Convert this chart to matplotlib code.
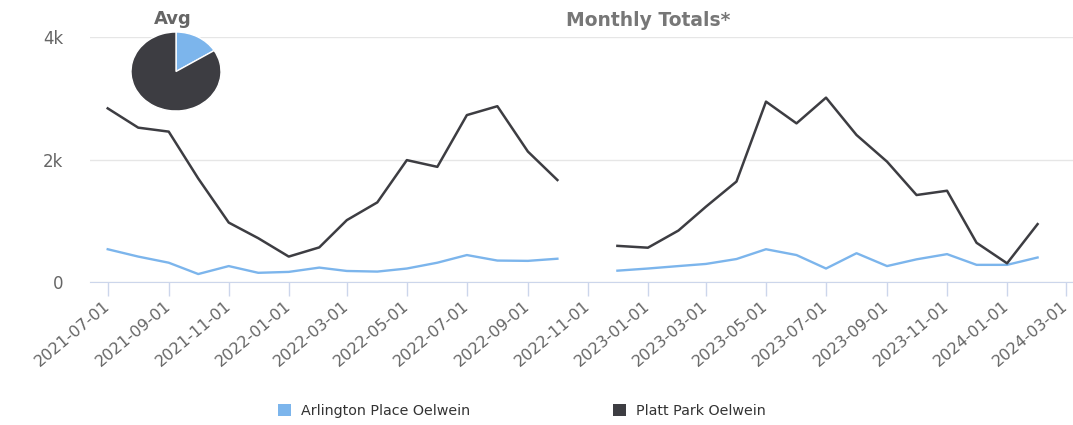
import numpy as np
import pandas as pd
import matplotlib
matplotlib.use("Agg")
import matplotlib.pyplot as plt
import matplotlib.dates as mdates
from matplotlib.patches import Patch

plt.rcParams['font.family'] = ['DejaVu Sans']

# 월별 데이터 (2022-11 은 결측)
months = pd.date_range("2021-07-01", "2024-02-01", freq="MS")
arlington = [535, 415, 315, 130, 260, 150, 165, 235, 180, 170, 220, 315, 440, 350, 345, 380,
             np.nan,
             185, 220, 260, 295, 375, 535, 440, 220, 470, 260, 370, 455, 280, 280, 400]
platt = [2835, 2520, 2455, 1690, 970, 715, 415, 565, 1010, 1300, 1990, 1880, 2725, 2870, 2130, 1665,
         np.nan,
         590, 560, 840, 1230, 1640, 2945, 2590, 3010, 2400, 1965, 1420, 1490, 640, 305, 945]
series_names = ["Arlington Place Oelwein", "Platt Park Oelwein"]
colors = ["#7cb5ec", "#3d3d42"]

W, H = 1073, 425
fig = plt.figure(figsize=(W / 100, H / 100), dpi=100)
ax = fig.add_axes([90 / W, 1 - 282 / H, (W - 90) / W, (282 - 37) / H])

ax.plot(months, arlington, color=colors[0], lw=1.7, solid_joinstyle='round')
ax.plot(months, platt, color=colors[1], lw=1.8, solid_joinstyle='round')

ax.set_ylim(0, 4000)
ax.set_yticks([0, 2000, 4000])
ax.set_yticklabels(["0", "2k", "4k"])
ax.set_xlim(pd.Timestamp("2021-07-01") - pd.Timedelta(days=18),
            pd.Timestamp("2024-03-01") + pd.Timedelta(days=7))

ax.xaxis.set_major_locator(mdates.MonthLocator(bymonth=[1, 3, 5, 7, 9, 11]))
ax.xaxis.set_major_formatter(mdates.DateFormatter("%Y-%m-%d"))
for lab in ax.get_xticklabels():
    lab.set_rotation(40)
    lab.set_ha('right')
    lab.set_va('center')
    lab.set_rotation_mode('anchor')

ax.grid(axis='y', color='#e6e6e6', lw=1)
ax.set_axisbelow(True)
for s in ['top', 'right', 'left']:
    ax.spines[s].set_visible(False)
ax.spines['bottom'].set_color('#ccd6eb')
ax.tick_params(axis='x', length=10, width=1, color='#ccd6eb', labelcolor='#666666',
               labelsize=11.5, pad=6)
ax.tick_params(axis='y', length=0, labelcolor='#666666', labelsize=12, pad=19)

fig.text(648 / W, 1 - 20 / H, "Monthly Totals*", ha='center', va='center',
         fontsize=13.5, fontweight='bold', color='#777777')

# 평균 파이 (원본 이미지가 가로로 늘어나 있어 타원으로 그림)
avg_vals = [np.nanmean(arlington), np.nanmean(platt)]
pax = fig.add_axes([131 / W, (H - 111) / H, 90 / W, 79 / H])
pax.pie(avg_vals, colors=colors, startangle=90, counterclock=False,
        wedgeprops=dict(edgecolor='white', linewidth=1))
pax.set_aspect('auto')
pax.set_xlim(-1, 1)
pax.set_ylim(-1, 1)
fig.text(173 / W, 1 - 19 / H, "Avg", ha='center', va='center',
         fontsize=13, fontweight='bold', color='#666666')

handles = [Patch(facecolor=c, edgecolor='none') for c in colors]
fig.legend(handles, series_names, loc='center', bbox_to_anchor=(522 / W, 14 / H),
           ncol=2, frameon=False, fontsize=10.3, handlelength=0.9, handleheight=0.9,
           handletextpad=0.7, columnspacing=10, labelcolor='#333333')

fig.savefig("out.png", dpi=100)
